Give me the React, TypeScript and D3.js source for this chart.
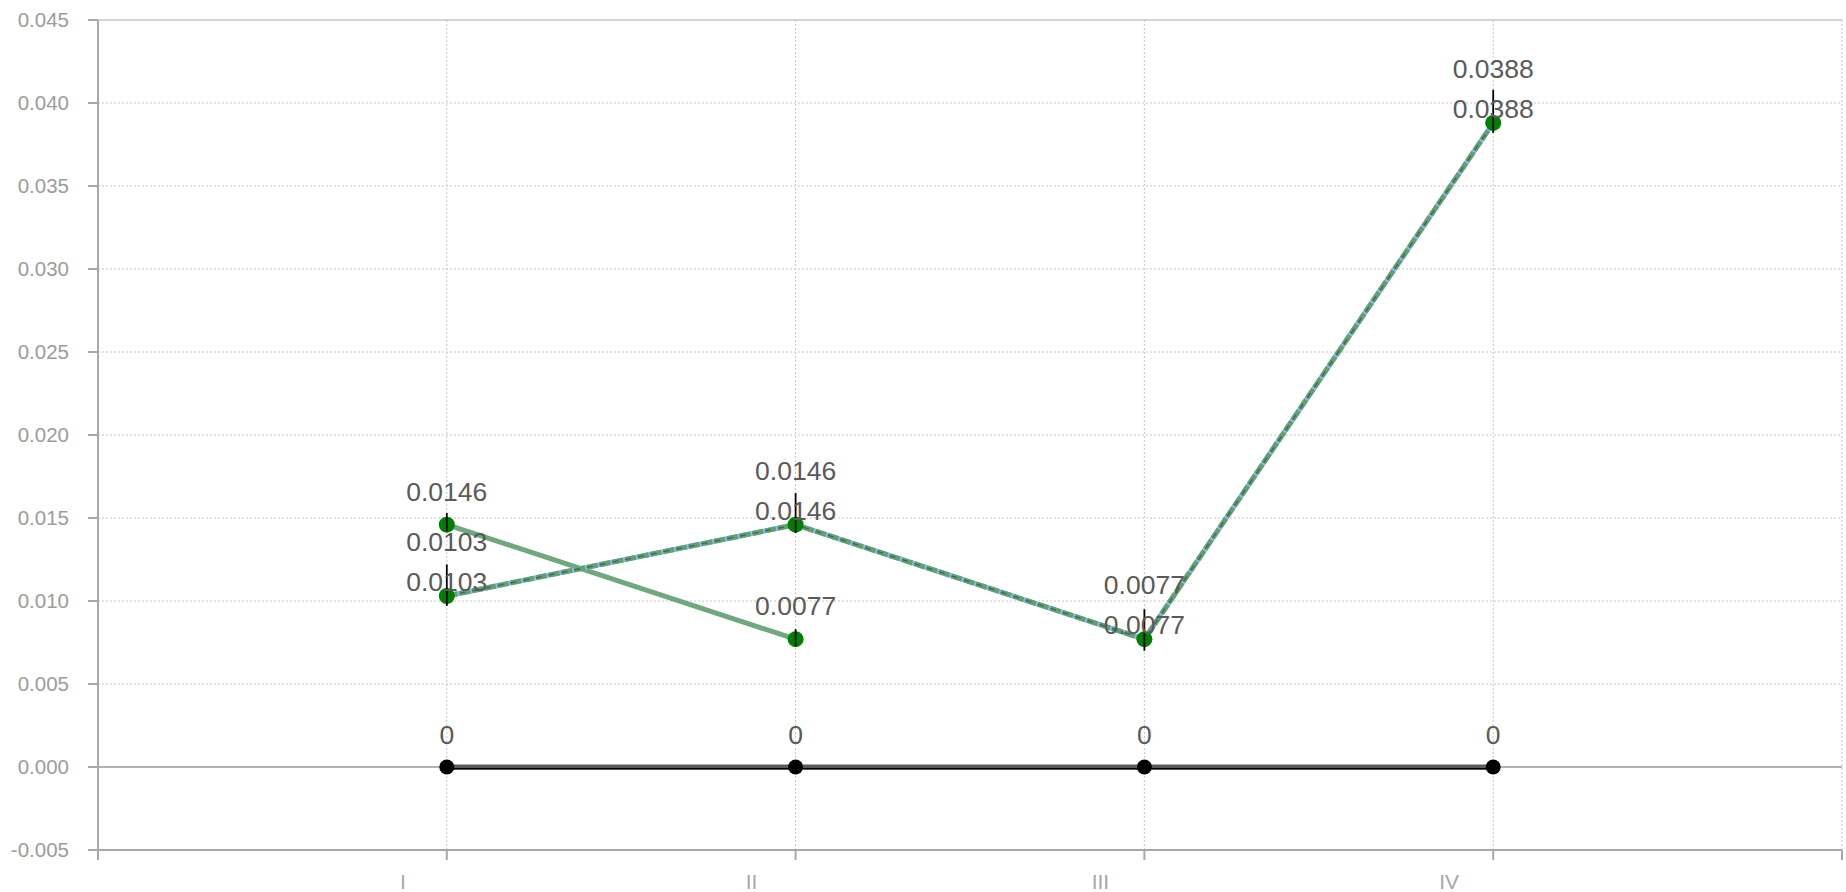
import React from "react";
import * as d3 from "d3";

const categories = ["I", "II", "III", "IV"];
const catPositions = [1, 2, 3, 4];
const yTicks = [-0.005, 0, 0.005, 0.01, 0.015, 0.02, 0.025, 0.03, 0.035, 0.04, 0.045];
const xGridTicks = [0, 1, 2, 3, 4, 5];

const seriesA = [0.0146, 0.0077];
const seriesAUpper = [0.0007, 0.0006];
const seriesALower = [0.0004, 0.0004];

const seriesB = [0.0103, 0.0146, 0.0077, 0.0388];
const seriesBUpper = [0.0019, 0.0019, 0.0018, 0.002];
const seriesBLower = [0.0006, 0.0005, 0.0007, 0.0006];

const seriesZero = [0, 0, 0, 0];

const W = 1846;
const H = 892;

export default function App() {
  const x = d3.scaleLinear().domain([0, 5]).range([98, 1842]);
  const y = d3.scaleLinear().domain([-0.005, 0.045]).range([850, 20]);
  const fmtY = (v: number) => d3.format(".3f")(v).replace("−", "-");
  const fmtLabel = (v: number) => String(v);

  const line = d3
    .line<[number, number]>()
    .x((d) => x(d[0]))
    .y((d) => y(d[1]));

  const ptsA: [number, number][] = seriesA.map((v, i) => [catPositions[i], v]);
  const ptsB: [number, number][] = seriesB.map((v, i) => [catPositions[i], v]);
  const ptsZ: [number, number][] = seriesZero.map((v, i) => [catPositions[i], v]);

  const axisColor = "#a8a8a8";
  const gridColor = "#c6c6c6";
  const font = "'Liberation Sans', Arial, Helvetica, sans-serif";
  const labelSize = 26.5;

  return (
    <svg
      width={W}
      height={H}
      style={{ position: "absolute", left: 0, top: 0, display: "block", background: "#fff" }}
      fontFamily={font}
    >
      {/* horizontal grid */}
      {yTicks.map((t, i) => (
        <line
          key={"hg" + i}
          x1={x(0)}
          x2={x(5)}
          y1={y(t)}
          y2={y(t)}
          stroke={t === 0 ? "#9a9a9a" : i === yTicks.length - 1 ? axisColor : gridColor}
          strokeWidth={t === 0 ? 1.6 : 1}
          strokeDasharray={t === 0 || i === yTicks.length - 1 ? undefined : "2,2"}
        />
      ))}
      {/* vertical grid */}
      {xGridTicks.slice(1).map((t) => (
        <line
          key={"vg" + t}
          x1={x(t)}
          x2={x(t)}
          y1={y(0.045)}
          y2={y(-0.005)}
          stroke={gridColor}
          strokeWidth={1}
          strokeDasharray="2,2"
        />
      ))}
      {/* y axis */}
      <line x1={x(0)} x2={x(0)} y1={y(0.045)} y2={y(-0.005)} stroke={axisColor} strokeWidth={2} />
      {yTicks.map((t, i) => (
        <g key={"yt" + i}>
          <line x1={x(0) - 10} x2={x(0)} y1={y(t)} y2={y(t)} stroke={axisColor} strokeWidth={2} />
          <text
            x={x(0) - 29}
            y={y(t)}
            dy="0.35em"
            textAnchor="end"
            fontSize={20.5}
            fill="#9c9c9c"
          >
            {fmtY(t)}
          </text>
        </g>
      ))}
      {/* x axis */}
      <line x1={x(0)} x2={x(5)} y1={y(-0.005)} y2={y(-0.005)} stroke={axisColor} strokeWidth={2} />
      {xGridTicks.map((t) => (
        <line
          key={"xt" + t}
          x1={x(t)}
          x2={x(t)}
          y1={y(-0.005)}
          y2={y(-0.005) + 10}
          stroke={axisColor}
          strokeWidth={2}
        />
      ))}
      {categories.map((c, i) => (
        <text
          key={"xl" + i}
          x={x(catPositions[i]) - 44}
          y={889}
          textAnchor="middle"
          fontSize={21}
          fill="#a8a8a8"
        >
          {c}
        </text>
      ))}

      {/* zero series */}
      <path d={line(ptsZ) || ""} fill="none" stroke="#5a5a5a" strokeWidth={5} />
      <path d={line(ptsZ) || ""} fill="none" stroke="#000" strokeWidth={1.5} transform="translate(0,1.8)" />

      {/* series A */}
      <path d={line(ptsA) || ""} fill="none" stroke="#5f9f70" strokeOpacity={0.9} strokeWidth={5} />

      {/* series B: blue base, green dashed overlay, dark dashes */}
      <path d={line(ptsB) || ""} fill="none" stroke="#8ab8f0" strokeWidth={5} />
      <path d={line(ptsB) || ""} fill="none" stroke="#62a074" strokeWidth={5} strokeDasharray="11,2" />
      <path d={line(ptsB) || ""} fill="none" stroke="#3a6a47" strokeWidth={1.3} strokeDasharray="6,7" />

      {/* dots */}
      {ptsZ.map((p, i) => (
        <circle key={"dz" + i} cx={x(p[0])} cy={y(p[1])} r={7.5} fill="#000" />
      ))}
      {ptsA.map((p, i) => (
        <circle key={"da" + i} cx={x(p[0])} cy={y(p[1])} r={8} fill="#008000" />
      ))}
      {ptsB.map((p, i) => (
        <circle key={"db" + i} cx={x(p[0])} cy={y(p[1])} r={8} fill="#008000" />
      ))}

      {/* error bars */}
      {ptsA.map((p, i) => (
        <line
          key={"ea" + i}
          x1={x(p[0])}
          x2={x(p[0])}
          y1={y(p[1] + seriesAUpper[i])}
          y2={y(p[1] - seriesALower[i])}
          stroke="#000"
          strokeWidth={1.8}
        />
      ))}
      {ptsB.map((p, i) => (
        <line
          key={"eb" + i}
          x1={x(p[0])}
          x2={x(p[0])}
          y1={y(p[1] + seriesBUpper[i])}
          y2={y(p[1] - seriesBLower[i])}
          stroke="#000"
          strokeWidth={1.8}
        />
      ))}

      {/* labels */}
      {ptsZ.map((p, i) => (
        <text key={"lz" + i} x={x(p[0])} y={y(p[1]) - 23} textAnchor="middle" fontSize={labelSize} fill="#5a5a5a">
          {fmtLabel(p[1])}
        </text>
      ))}
      {ptsA.map((p, i) => (
        <text key={"la" + i} x={x(p[0])} y={y(p[1]) - 24} textAnchor="middle" fontSize={labelSize} fill="#5a5a5a">
          {fmtLabel(p[1])}
        </text>
      ))}
      {ptsB.map((p, i) => (
        <text key={"lb1" + i} x={x(p[0])} y={y(p[1]) - 5} textAnchor="middle" fontSize={labelSize} fill="#5a5a5a">
          {fmtLabel(p[1])}
        </text>
      ))}
      {ptsB.map((p, i) => (
        <text key={"lb2" + i} x={x(p[0])} y={y(p[1]) - 45} textAnchor="middle" fontSize={labelSize} fill="#5a5a5a">
          {fmtLabel(p[1])}
        </text>
      ))}
    </svg>
  );
}
